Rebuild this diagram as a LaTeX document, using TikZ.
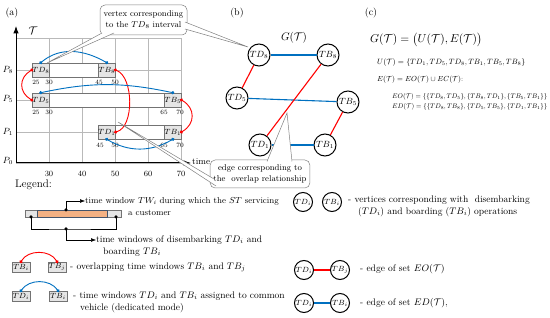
\RequirePackage{fix-cm}
\documentclass[tikz,border=0pt]{standalone}
\usepackage{fontspec}
\usepackage{amsmath,amssymb}
\usepackage{graphicx}
\usetikzlibrary{positioning,arrows.meta}
\definecolor{ovlred}{RGB}{255,0,0}
\definecolor{dedblue}{RGB}{0,112,192}
\definecolor{twfill}{RGB}{244,177,131}
\definecolor{twedge}{RGB}{68,84,106}

\begin{document}
\begin{tikzpicture}[
  x=1pt, y=1pt,
  >=Latex,                % default arrow tip
  gridline/.style={draw=gray!55, line width=0.5pt},
  rowbox/.style={draw=gray!90!black, fill=white, line width=0.6pt},
  twbox/.style={rectangle, draw=gray!90!black, fill=gray!20, line width=0.6pt, minimum width=16.5pt, minimum height=14pt, inner sep=0pt, font=\fontsize{7.5}{8}\selectfont},
  legbox/.style={twbox, minimum width=18pt, minimum height=10pt},
  vert/.style={circle, draw, line width=1pt, fill=white, minimum size=22pt, inner sep=0pt, font=\fontsize{9}{10}\selectfont},
  legvert/.style={vert, minimum size=19pt, font=\fontsize{7.5}{8}\selectfont},
  ovl/.style={ovlred, line width=0.9pt, {Circle[length=3.2pt]}-{Circle[length=3.2pt]}, shorten <=-1.6pt, shorten >=-1.6pt},
  ded/.style={ovl, dedblue},
  eo/.style={draw=ovlred, line width=1.1pt},
  ed/.style={draw=dedblue, line width=1.1pt},
  num/.style={font=\fontsize{6.5}{7}\selectfont, inner sep=0pt},
  txt/.style={anchor=west, inner sep=0pt, font=\fontsize{9.5}{11}\selectfont},
  callout/.style={rectangle, draw=gray, fill=white, rounded corners=5pt, align=center, line width=0.5pt, font=\fontsize{8.5}{11}\selectfont},
  tail/.style={draw=gray, fill=white, line width=0.5pt},
  dot/.style={circle, fill, inner sep=0pt, minimum size=3.5pt}
]
\useasboundingbox (0,0) rectangle (550,-318);

% Panel labels
\node[font=\fontsize{10}{11}\selectfont] (pa) at (12,-13) {(a)};
\node[font=\fontsize{10}{11}\selectfont] (pb) at (237,-13) {(b)};
\node[font=\fontsize{10}{11}\selectfont] (pc) at (371,-13) {(c)};

% Grid and axes
\draw[gridline] (16,-38) rectangle (181,-163);
\foreach \x in {49,82,115,148} \draw[gridline] (\x,-38) -- (\x,-163);
\foreach \y in {70,100,132} \draw[gridline] (16,-\y) -- (181,-\y);
\draw[line width=1pt,->] (16,-163) -- (16,-26);
\draw[line width=1pt,->] (16,-163) -- (191,-163);
\node[font=\fontsize{11}{12}\selectfont] (tset) at (33,-31) {$\mathcal{T}$};
\node[anchor=west, font=\fontsize{9}{10}\selectfont, inner sep=1pt] (timelbl) at (191,-162) {time};
\foreach \t/\x in {30/49,40/82,50/115,60/148,70/181}
  \node[num, font=\fontsize{8}{9}\selectfont] at (\x,-174) {\t};
\node[font=\fontsize{9}{10}\selectfont] (p8) at (8,-70) {$P_8$};
\node[font=\fontsize{9}{10}\selectfont] (p5) at (8,-99) {$P_5$};
\node[font=\fontsize{9}{10}\selectfont] (p1) at (8,-132) {$P_1$};
\node[font=\fontsize{9}{10}\selectfont] (p0) at (8,-161) {$P_0$};

% Time windows
\draw[rowbox] (32.5,-63) rectangle (115,-77);
\draw[rowbox] (32.5,-93) rectangle (181,-107);
\draw[rowbox] (98.5,-125) rectangle (181,-139);
\node[twbox] (td8) at (40.75,-70) {$TD_8$};
\node[twbox] (tb8) at (106.75,-70) {$TB_8$};
\node[twbox] (td5) at (40.75,-100) {$TD_5$};
\node[twbox] (tb5) at (172.75,-100) {$TB_5$};
\node[twbox] (td1) at (106.75,-132) {$TD_1$};
\node[twbox] (tb1) at (172.75,-132) {$TB_1$};
\foreach \t/\x/\y in {25/36/82,30/49/82,45/99/82,50/115/82,
                      25/36/112,30/49/112,65/164/112,70/180/112,
                      45/100/145,50/115/145,65/164/145,70/180/145}
  \node[num] at (\x,-\y) {\t};

% Overlaps and common vehicle
\draw[ovl] (td8.west) to[out=210,in=150,looseness=1.3] (td5.west);
\draw[ovl] (tb8.east) to[out=-20,in=15,looseness=0.8] (td1.east);
\draw[ovl] (tb5.east) to[out=-30,in=30,looseness=1.3] (tb1.east);
\draw[ded] (td8.north) to[out=40,in=150] (tb8.north);
\draw[ded] (td5.north) to[out=12,in=168] (tb5.north);
\draw[ded] (td1.south) to[out=-30,in=-150] (tb1.south);

% Graph G(T)
\node[font=\fontsize{11}{12}\selectfont] (gname) at (294,-38) {$G(\mathcal{T})$};
\node[vert] (gd8) at (259,-55) {$TD_8$};
\node[vert] (gb8) at (328,-55) {$TB_8$};
\node[vert] (gd5) at (237,-98) {$TD_5$};
\node[vert] (gb5) at (348,-102) {$TB_5$};
\node[vert] (gd1) at (260,-145) {$TD_1$};
\node[vert] (gb1) at (325,-145) {$TB_1$};
\draw[ed] (gd8) -- (gb8);
\draw[ed] (gd5) -- (gb5);
\draw[ed] (gd1) -- (gb1);
\draw[eo] (gd8) -- (gd5);
\draw[eo] (gb8) -- (gd1);
\draw[eo] (gb5) -- (gb1);

% Callouts
\node[callout, minimum width=87pt, minimum height=30pt] (c8note) at (143.5,-20) {vertex corresponding\\to the $TD_8$ interval};
\path[tail] (102,-33) -- (47,-63) -- (114,-33);
\path[tail] (185,-22) -- (248,-47) -- (185,-29);
\node[callout, minimum width=94pt, minimum height=28pt] (ovnote) at (260,-174) {edge corresponding to\\the\ \ overlap relationship};
\path[tail] (214,-179) -- (118,-122) -- (216,-186);
\path[tail] (267,-161.5) -- (287,-113) -- (292,-161.5);

% Definitions
\node[anchor=west, inner sep=0pt] (gdef) at (370,-40) {\resizebox{112pt}{!}{$G(\mathcal{T}) = \bigl(U(\mathcal{T}), E(\mathcal{T})\bigr)$}};
\node[txt] (udef) at (377,-63) {\resizebox{148pt}{!}{$U(\mathcal{T}) = \{TD_1, TD_5, TD_8, TB_1, TB_5, TB_8\}$}};
\node[txt] (edef) at (377,-80) {\resizebox{86pt}{!}{$E(\mathcal{T}) = EO(\mathcal{T}) \cup EC(\mathcal{T})$:}};
\node[txt] (eodef) at (392,-97) {\resizebox{155pt}{!}{$EO(\mathcal{T}) = \{\{TD_8,TD_5\},\{TB_8,TD_1\},\{TB_5,TB_1\}\}$}};
\node[txt] (eddef) at (392,-107) {\resizebox{155pt}{!}{$ED(\mathcal{T}) = \{\{TD_8,TB_8\},\{TD_5,TB_5\},\{TD_1,TB_1\}\}$}};

% Legend
\node[txt, font=\fontsize{11}{12}\selectfont] (legend) at (15,-185) {Legend:};
\draw[rowbox, fill=gray!20] (25,-210) rectangle (121,-217);
\draw[draw=twedge, fill=twfill, line width=0.6pt] (37,-210) rectangle (107,-217);
\node[txt, font=\fontsize{8.7}{10}\selectfont] (twtext) at (85,-201) {time window $TW_i$ during which the $ST$ servicing};
\node[txt, font=\fontsize{8.7}{10}\selectfont] (twtext2) at (128,-213) {a customer};
\node[txt] (tdtext) at (96,-240) {time windows of disembarking $TD_i$ and};
\node[txt] (tdtext2) at (103,-252) {boarding $TB_i$};
\coordinate (twtop) at (66,-210);
\coordinate (twl) at (31,-217);
\coordinate (twr) at (116,-217);
\coordinate (twlow) at (66,-229);
\draw[->] (twtop) |- (twtext.west);
\draw (twl) |- (twlow) -| (twr);
\draw[->] (twlow) |- (tdtext.west);
\foreach \c in {twtop,twl,twr,twlow} \node[dot] at (\c) {};

\node[legbox] (lbi) at (21,-267) {$TB_i$};
\node[legbox] (lbj) at (57,-267) {$TB_j$};
\draw[ovl] (lbi.north) to[out=60,in=120] (lbj.north);
\node[txt] (ovtext) at (70,-267) {- overlapping time windows $TB_i$ and $TB_j$};
\node[legbox] (ldi) at (21,-296) {$TD_i$};
\node[legbox] (lbii) at (58,-296) {$TB_i$};
\draw[ded] (ldi.north) to[out=55,in=125] (lbii.north);
\node[txt] (dedtext) at (73,-296) {- time windows $TD_i$ and $TB_i$ assigned to common};
\node[txt] (dedtext2) at (80,-308) {vehicle (dedicated mode)};

\node[legvert] (vdi) at (303,-202) {$TD_i$};
\node[legvert] (vbi) at (332,-202) {$TB_i$};
\node[txt] (vtext) at (348,-200) {- vertices corresponding with\ \ disembarking};
\node[txt] (vtext2) at (358,-212) {($TD_i$) and boarding ($TB_i$) operations};
\node[legvert] (edi) at (304,-270) {$TD_i$};
\node[legvert] (ebj) at (340,-270) {$TB_j$};
\draw[eo] (edi) -- (ebj);
\node[txt] (eotext) at (360,-269) {- edge of set $EO(\mathcal{T})$};
\node[legvert] (ddi) at (304,-303) {$TD_i$};
\node[legvert] (dbi) at (340,-303) {$TB_i$};
\draw[ed] (ddi) -- (dbi);
\node[txt] (edtext) at (360,-303) {- edge of set $ED(\mathcal{T})$,};
\end{tikzpicture}
\end{document}
